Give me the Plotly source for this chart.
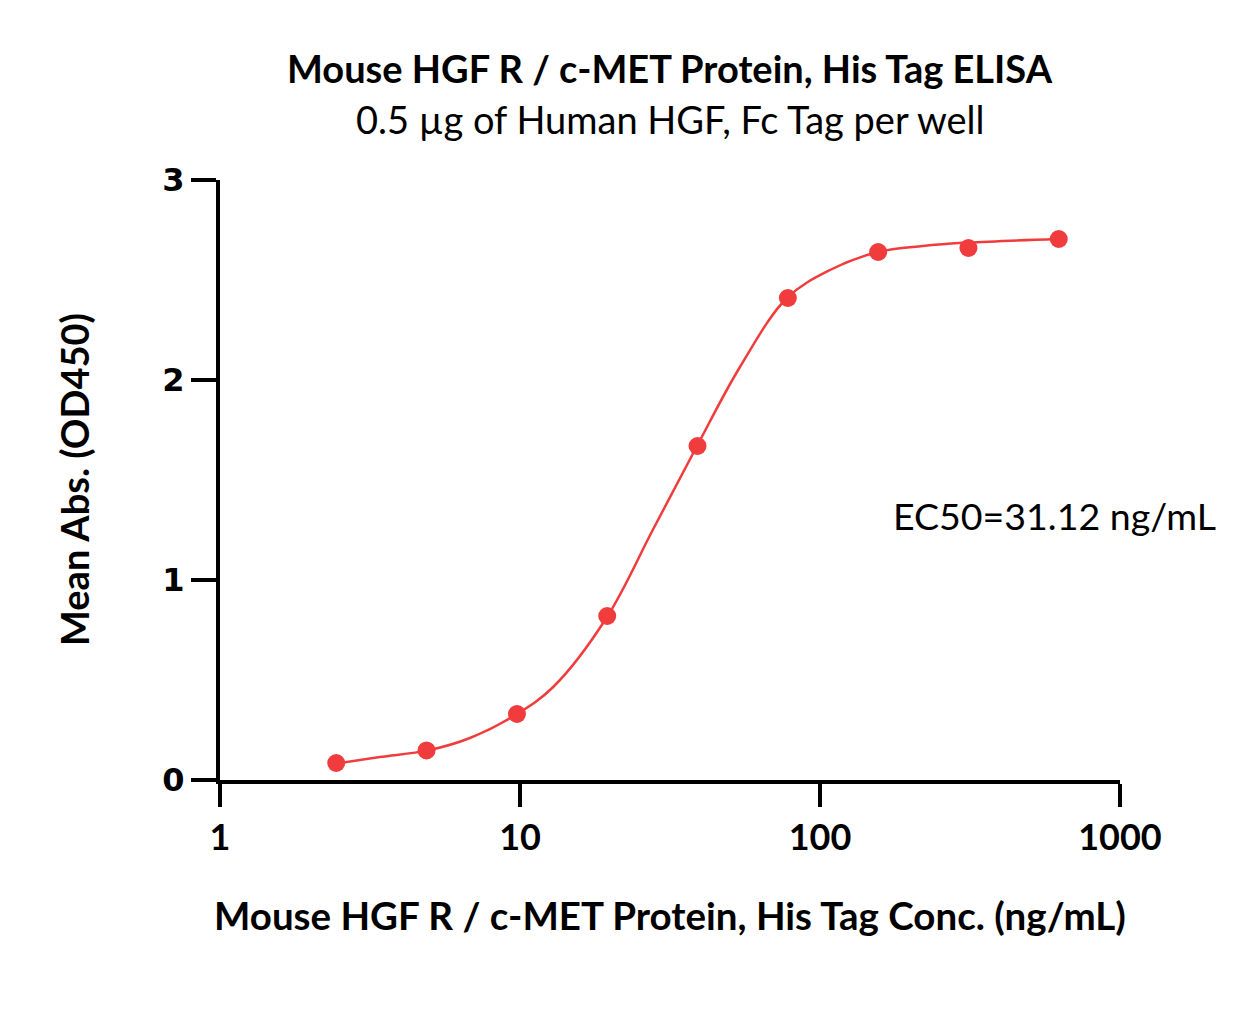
import plotly.graph_objects as go

# Measured data points
conc = [2.44, 4.88, 9.77, 19.53, 39.06, 78.13, 156.25, 312.5, 625]
od450 = [0.085, 0.148, 0.33, 0.82, 1.67, 2.41, 2.64, 2.66, 2.705]

# Fitted curve
curve_x = [2.455, 3.41, 4.93, 6.81, 9.77, 12.9, 19.5, 27.7, 38.9, 54.1, 77.6, 108, 156, 220, 311, 621]
curve_y = [0.083, 0.115, 0.148, 0.21, 0.33, 0.465, 0.815, 1.25, 1.67, 2.065, 2.41, 2.55, 2.64, 2.67, 2.687, 2.705]

x_ticks = [1, 10, 100, 1000]
x_tick_labels = ["1", "10", "100", "1000"]
y_ticks = [0, 1, 2, 3]
y_tick_labels = ["0", "1", "2", "3"]

title = "Mouse HGF R / c-MET Protein, His Tag ELISA"
subtitle = "0.5 µg of Human HGF, Fc Tag per well"
x_title = "Mouse HGF R / c-MET Protein, His Tag Conc. (ng/mL)"
y_title = "Mean Abs. (OD450)"
ec50_text = "EC50=31.12 ng/mL"

RED = "#F03C3C"
FONT = "Lato"

fig = go.Figure()
fig.add_trace(go.Scatter(x=curve_x, y=curve_y, mode="lines",
                         line=dict(color=RED, width=2.5, shape="spline"),
                         hoverinfo="skip", showlegend=False))
fig.add_trace(go.Scatter(x=conc, y=od450, mode="markers",
                         marker=dict(color=RED, size=18, line=dict(width=0)),
                         showlegend=False))

OFF = 8  # page body margin
W, H = 1258 - 2 * OFF, 1035 - 2 * OFF
L, T = 220 - OFF, 180 - OFF
R = W - (1120 - OFF)
B = H - (780 - OFF)
pw, ph = W - L - R, H - T - B

def px(x):
    return (x - OFF - L) / pw

def py(y):
    return (H - B - (y - OFF)) / ph

fig.update_layout(
    width=W, height=H,
    margin=dict(l=L, r=R, t=T, b=B),
    paper_bgcolor="white", plot_bgcolor="white",
    font=dict(family=FONT, color="black"),
    xaxis=dict(type="log", range=[0, 3], tickvals=x_ticks, ticktext=x_tick_labels,
               showline=True, linecolor="black", linewidth=4, ticks="outside",
               ticklen=23, tickwidth=4, tickcolor="black", showgrid=False, zeroline=False,
               tickfont=dict(family=FONT, size=36, color="black", weight="bold")),
    yaxis=dict(range=[0, 3], tickvals=y_ticks, ticktext=y_tick_labels,
               showline=True, linecolor="black", linewidth=4, ticks="outside",
               ticklen=25, tickwidth=4, tickcolor="black", showgrid=False, zeroline=False,
               ticklabelstandoff=0,
               tickfont=dict(family="DejaVu Sans", size=32, color="black", weight="bold")),
    shapes=[dict(type="line", xref="paper", yref="paper", x0=0, x1=0, y0=0, y1=-20 / ph,
                 line=dict(color="black", width=4))],
    annotations=[
        dict(text="<b>" + title + "</b>", x=px(670), y=py(68), xref="paper", yref="paper",
             showarrow=False, font=dict(family=FONT, size=38), xanchor="center", yanchor="middle"),
        dict(text=subtitle, x=px(670), y=py(119), xref="paper", yref="paper",
             showarrow=False, font=dict(family=FONT, size=38), xanchor="center", yanchor="middle"),
        dict(text="<b>" + x_title + "</b>", x=px(670), y=py(915), xref="paper", yref="paper",
             showarrow=False, font=dict(family=FONT, size=38.5), xanchor="center", yanchor="middle"),
        dict(text="<b>" + y_title + "</b>", x=px(74), y=py(480), xref="paper", yref="paper",
             showarrow=False, font=dict(family=FONT, size=38), textangle=-90,
             xanchor="center", yanchor="middle"),
        dict(text=ec50_text, x=px(1054), y=py(515), xref="paper", yref="paper",
             showarrow=False, font=dict(family=FONT, size=37.5), xanchor="center", yanchor="middle"),
    ],
)

fig.write_html("out.html")
